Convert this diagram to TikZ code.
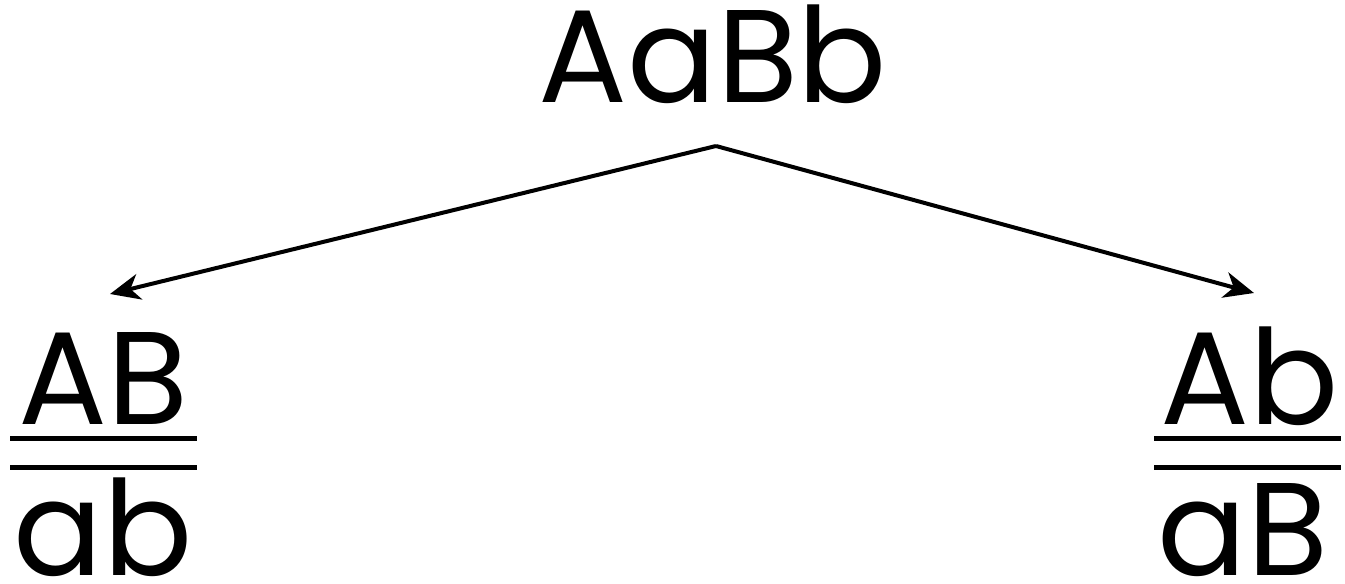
\documentclass[tikz,border=0pt]{standalone}
\usepackage{fontspec}
\setmainfont{Poppins}
\usepackage{tikz}
\usetikzlibrary{positioning, arrows.meta, calc}
\definecolor{cInk}{HTML}{000000}

\begin{document}
\begin{tikzpicture}[x=1pt, y=-1pt,
    geno/.style={font=\fontsize{132}{132}\selectfont, text=cInk, inner sep=0pt, anchor=base},
    link/.style={draw=cInk, line width=4pt, -{Stealth[length=30pt, width=26pt, inset=9pt]}},
    bar/.style={draw=cInk, line width=5pt}]
  \useasboundingbox (0,0) rectangle (1345,584);
  % parent genotype
  \node[geno] (parent) at (713,102) {AaBb};
  \coordinate (apex) at (716,146);
  % gametes / chromosome pairs
  \node[geno] (leftTop) at (103,424) {AB};
  \node[geno] (leftBot) at (103,575) {ab};
  \node[geno] (rightTop) at (1250,424) {Ab};
  \node[geno] (rightBot) at (1243,575) {aB};
  \coordinate (leftTip) at (110,294);
  \coordinate (rightTip) at (1254,293);
  \draw[link] (apex) -- (leftTip);
  \draw[link] (apex) -- (rightTip);
  \foreach \y in {438,467}{
    \draw[bar] (10,\y) -- (197,\y);
    \draw[bar] (1154,\y) -- (1341,\y);
  }
\end{tikzpicture}
\end{document}
